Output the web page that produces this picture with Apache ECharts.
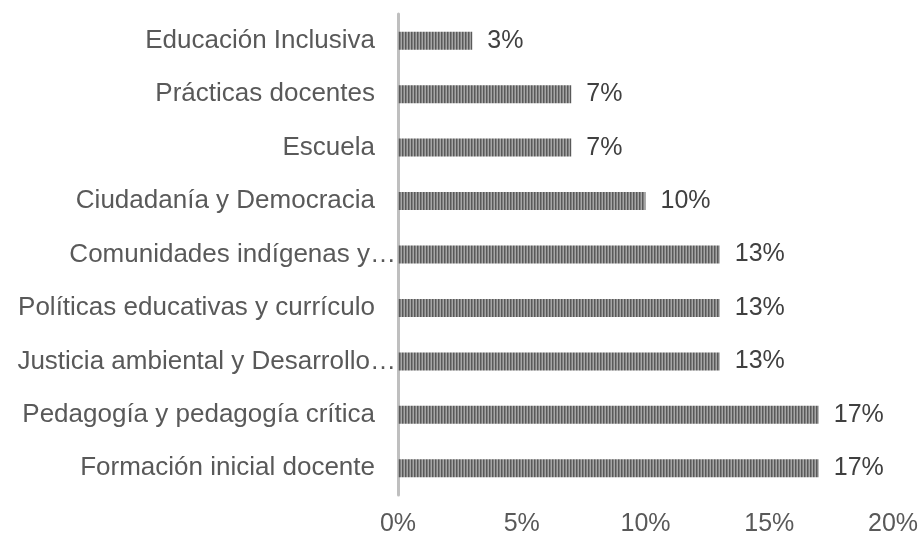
<!DOCTYPE html>
<html>
<head>
<meta charset="utf-8">
<script src="https://cdn.jsdelivr.net/npm/echarts@6/dist/echarts.min.js"></script>
<style>
  html, body { margin: 0; padding: 0; background: #fff; }
  #chart { width: 922px; height: 537px; }
</style>
</head>
<body>
<div id="chart"></div>
<script>
// categories from top to bottom as in the picture
const categories = [
  "Educación Inclusiva",
  "Prácticas docentes",
  "Escuela",
  "Ciudadanía y Democracia",
  "Comunidades indígenas y…",
  "Políticas educativas y currículo",
  "Justicia ambiental y Desarrollo…",
  "Pedagogía y pedagogía crítica",
  "Formación inicial docente"
];
const values = [3, 7, 7, 10, 13, 13, 13, 17, 17];
const truncated = [false, false, false, false, true, false, true, false, false];
const xTicks = [0, 5, 10, 15, 20];

// vertical striped fill for the bars
const makeStripes = () => {
  const c = document.createElement("canvas");
  c.width = 3;
  c.height = 4;
  const ctx = c.getContext("2d");
  ctx.fillStyle = "#a6a6a6";
  ctx.fillRect(0, 0, 3, 4);
  ctx.fillStyle = "#595959";
  ctx.fillRect(0, 0, 1, 4);
  ctx.fillStyle = "#808080";
  ctx.fillRect(1, 0, 1, 4);
  return c;
};

const chart = echarts.init(document.getElementById("chart"));
const font = "Liberation Sans, Arial, Helvetica, sans-serif";

chart.setOption({
  animation: false,
  grid: { left: 398, right: 29, top: 14, bottom: 41, containLabel: false },
  xAxis: {
    type: "value",
    min: xTicks[0],
    max: xTicks[xTicks.length - 1],
    interval: 5,
    axisLine: { show: false },
    axisTick: { show: false },
    splitLine: { show: false },
    axisLabel: {
      margin: 17,
      color: "#595959",
      fontSize: 25,
      fontFamily: font,
      formatter: (v) => v + "%"
    }
  },
  yAxis: {
    type: "category",
    inverse: true,
    data: categories,
    axisLine: { show: true, lineStyle: { color: "#bfbfbf", width: 3 } },
    axisTick: { show: false },
    axisLabel: {
      margin: 2,
      color: "#595959",
      fontSize: 26,
      fontFamily: font,
      formatter: (v, i) => truncated[i] ? "{t|" + v + "}" : "{n|" + v + "}",
      rich: {
        n: { fontSize: 26, fontFamily: font, color: "#595959", padding: [0, 21, 0, 0] },
        t: { fontSize: 26, fontFamily: font, color: "#595959", padding: [0, 0, 0, 0] }
      }
    }
  },
  series: [{
    type: "bar",
    data: values,
    barWidth: 18,
    itemStyle: { color: { image: makeStripes(), repeat: "repeat" } },
    label: {
      show: true,
      position: "right",
      distance: 15,
      color: "#404040",
      fontSize: 25,
      fontFamily: font,
      formatter: (p) => p.value + "%"
    }
  }]
});
</script>
</body>
</html>
